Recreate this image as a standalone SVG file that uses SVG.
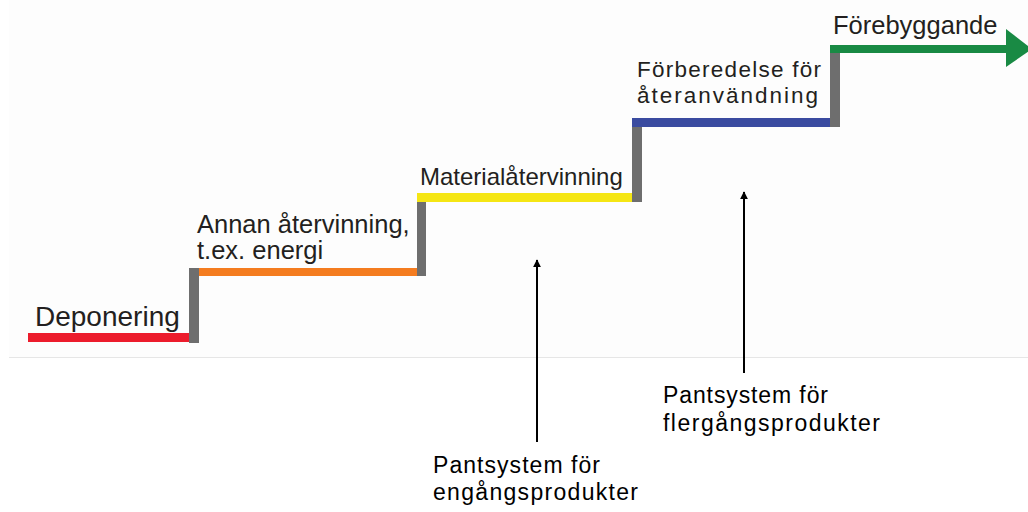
<svg xmlns="http://www.w3.org/2000/svg" width="1028" height="512" viewBox="0 0 1028 512">
<style>
.lbl{font-family:"Liberation Sans",Arial,sans-serif;fill:#231f20}
.note{font-family:"Liberation Sans",Arial,sans-serif;fill:#000;font-size:23px}
.riser{fill:#6e6e6e}
.conn{stroke:#000;stroke-width:2;fill:none}
</style>
<defs>
<marker id="ah" viewBox="0 0 10 10" refX="9" refY="5" markerWidth="4" markerHeight="5" orient="auto" markerUnits="strokeWidth">
<path d="M0,0 L10,5 L0,10 z" fill="#000"/>
</marker>
</defs>
<rect x="0" y="0" width="1028" height="512" fill="#fff"/>
<rect x="9" y="0" width="1019" height="357" fill="#fdfdfd"/>
<line x1="9" y1="357.5" x2="1028" y2="357.5" stroke="#e6e6e6" stroke-width="1"/>

<g id="deponering">
<rect x="28" y="333" width="162" height="9" fill="#ec1c2c"/>
<text class="lbl" x="35" y="326" font-size="28">Deponering</text>
</g>
<g id="annan">
<rect class="riser" x="189" y="268" width="10" height="75"/>
<rect x="199" y="268" width="218" height="8" fill="#f47c20"/>
<text class="lbl" x="197" y="233" font-size="25.5">Annan återvinning,</text>
<text class="lbl" x="197" y="259" font-size="25.5">t.ex. energi</text>
</g>
<g id="material">
<rect class="riser" x="417" y="201" width="9" height="75"/>
<rect x="417" y="193" width="216" height="9" fill="#f5e614"/>
<text class="lbl" x="420" y="185" font-size="24">Materialåtervinning</text>
</g>
<g id="forberedelse">
<rect class="riser" x="632" y="126" width="10" height="76"/>
<rect x="632" y="118" width="199" height="9" fill="#3a4ba0"/>
<text class="lbl" x="637" y="77" font-size="22.5" textLength="184" lengthAdjust="spacing">Förberedelse för</text>
<text class="lbl" x="637" y="103" font-size="22.5" textLength="181" lengthAdjust="spacing">återanvändning</text>
</g>
<g id="forebyggande">
<rect class="riser" x="830" y="50" width="10" height="77"/>
<rect x="830" y="45" width="177" height="8" fill="#198a44"/>
<path d="M1006,29 L1032,49 L1006,67 z" fill="#198a44"/>
<text class="lbl" x="833" y="34" font-size="25.5">Förebyggande</text>
</g>
<g id="pant-engang">
<text class="note" x="433" y="473" textLength="167" lengthAdjust="spacing">Pantsystem för</text>
<text class="note" x="433" y="500" textLength="205" lengthAdjust="spacing">engångsprodukter</text>
</g>
<g id="pant-flergang">
<text class="note" x="663" y="403" textLength="165" lengthAdjust="spacing">Pantsystem för</text>
<text class="note" x="663" y="431" textLength="217" lengthAdjust="spacing">flergångsprodukter</text>
</g>
<g id="connectors">
<line class="conn" x1="537" y1="442" x2="537" y2="260" marker-end="url(#ah)"/>
<line class="conn" x1="744" y1="373" x2="744" y2="192" marker-end="url(#ah)"/>
</g>
</svg>
